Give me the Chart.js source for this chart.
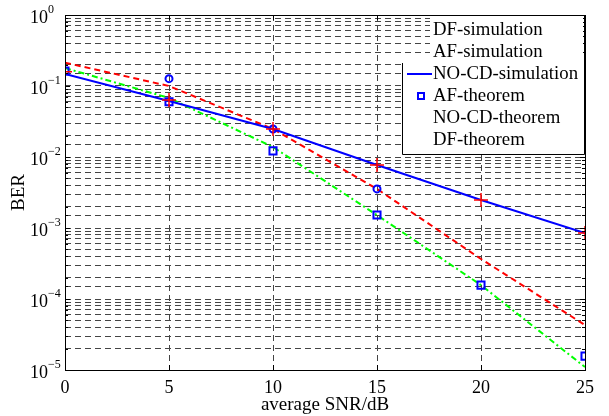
<!DOCTYPE html>
<html>
<head>
<meta charset="utf-8">
<script src="https://cdn.jsdelivr.net/npm/chart.js@4"></script>
<style>
  body { margin: 0; background: #fff; }
  canvas { display: block; }
</style>
</head>
<body>
<canvas id="berChart" width="609" height="416"></canvas>
<script>
// === Data ===
const snrDb = [0, 5, 10, 15, 20, 25];
const dfSimulation = [0.213, 0.1, 0.0248, 0.00355, 0.000366, 0.000043];
const afSimulation = [0.179, 0.0678, 0.0138, 0.00152, 0.000157, 0.000011];
const noCdSimulation = [0.148, 0.0615, 0.0248, 0.0077, 0.00248, 0.00085];
const afTheorem = [0.163, 0.06, 0.0122, 0.00152, 0.000157, 0.0000157];
const noCdTheorem = [0.159, 0.0635, 0.0248, 0.0077, 0.00248, 0.00085];
const dfTheorem = [null, 0.127, 0.0248, 0.00355, null, null];
const yTickExponents = [0, -1, -2, -3, -4, -5];
const xTitle = "average SNR/dB";
const yTitle = "BER";

const serif = "'Liberation Serif', 'Times New Roman', serif";

const toPoints = (values) => snrDb.map((x, i) => ({ x, y: values[i] }));

// Box, inward ticks and 10^n labels like the MATLAB figure
const framePlugin = {
  id: "frame",
  afterDraw(chart) {
    const { ctx, chartArea: a, scales } = chart;
    const yScale = scales.y;
    const xScale = scales.x;
    ctx.save();
    ctx.strokeStyle = "#000";
    ctx.lineWidth = 1;
    ctx.beginPath();
    yScale.ticks.forEach((t) => {
      const py = Math.round(yScale.getPixelForValue(t.value)) + 0.5;
      const major = Math.abs(Math.log10(t.value) % 1) < 1e-6;
      const len = major ? 5 : 3;
      ctx.moveTo(a.left, py);
      ctx.lineTo(a.left + len, py);
      ctx.moveTo(a.right, py);
      ctx.lineTo(a.right - len, py);
    });
    xScale.ticks.forEach((t) => {
      const px = Math.round(xScale.getPixelForValue(t.value)) + 0.5;
      ctx.moveTo(px, a.bottom);
      ctx.lineTo(px, a.bottom - 5);
      ctx.moveTo(px, a.top);
      ctx.lineTo(px, a.top + 5);
    });
    ctx.stroke();
    ctx.strokeRect(Math.round(a.left) + 0.5, Math.round(a.top) + 0.5,
      Math.round(a.right - a.left), Math.round(a.bottom - a.top));

    // y tick labels 10^n
    ctx.fillStyle = "#000";
    ctx.textBaseline = "middle";
    ctx.textAlign = "left";
    yTickExponents.forEach((e) => {
      const py = yScale.getPixelForValue(Math.pow(10, e));
      ctx.font = "18px " + serif;
      ctx.fillText("10", 30, py + 3);
      ctx.font = "12px " + serif;
      ctx.fillText(e === 0 ? "0" : "\u2212" + Math.abs(e), 48, py - 5);
    });
    ctx.restore();
  },
};

// Legend drawn like the original (partly boxed, only two samples visible)
const legendPlugin = {
  id: "matlabLegend",
  afterDraw(chart) {
    const { ctx } = chart;
    ctx.save();
    ctx.fillStyle = "#fff";
    ctx.fillRect(430, 16, 153, 48);
    ctx.fillRect(402, 63, 182, 92);
    ctx.strokeStyle = "#000";
    ctx.lineWidth = 1;
    ctx.beginPath();
    ctx.moveTo(402.5, 63);
    ctx.lineTo(402.5, 154.5);
    ctx.lineTo(584.5, 154.5);
    ctx.lineTo(584.5, 15);
    ctx.stroke();

    ctx.font = "18.8px " + serif;
    ctx.fillStyle = "#000";
    ctx.textBaseline = "middle";
    ctx.textAlign = "left";
    chart.data.datasets.forEach((ds, i) => {
      const y = 30 + i * 22;
      ctx.fillText(ds.label, 433, y);
      if (ds.legendSample === "line") {
        ctx.strokeStyle = ds.borderColor;
        ctx.lineWidth = 2;
        ctx.beginPath();
        ctx.moveTo(407, y);
        ctx.lineTo(432, y);
        ctx.stroke();
      } else if (ds.legendSample === "rect") {
        ctx.strokeStyle = ds.pointBorderColor;
        ctx.lineWidth = 2;
        ctx.strokeRect(418, y - 3, 6, 6);
      }
    });
    ctx.restore();
  },
};

const ctx = document.getElementById("berChart").getContext("2d");
new Chart(ctx, {
  type: "line",
  data: {
    datasets: [
      {
        label: "DF-simulation",
        data: toPoints(dfSimulation),
        borderColor: "#ff0000",
        borderWidth: 2,
        borderDash: [6, 4],
        pointRadius: 0,
        tension: 0,
        clip: 0,
        order: 3,
      },
      {
        label: "AF-simulation",
        data: toPoints(afSimulation),
        borderColor: "#00ff00",
        borderWidth: 2,
        borderDash: [6, 3, 2, 3],
        pointRadius: 0,
        tension: 0,
        clip: 0,
        order: 4,
      },
      {
        label: "NO-CD-simulation",
        data: toPoints(noCdSimulation),
        borderColor: "#0000ff",
        borderWidth: 2,
        pointRadius: 0,
        tension: 0,
        clip: 0,
        order: 2,
        legendSample: "line",
      },
      {
        label: "AF-theorem",
        data: toPoints(afTheorem),
        showLine: false,
        pointStyle: "rect",
        pointRadius: 5,
        pointBorderWidth: 2,
        pointBorderColor: "#0000ff",
        pointBackgroundColor: "rgba(255,255,255,0)",
        borderColor: "#0000ff",
        clip: 0,
        order: 1,
        legendSample: "rect",
      },
      {
        label: "NO-CD-theorem",
        data: toPoints(noCdTheorem),
        showLine: false,
        pointStyle: "cross",
        pointRadius: 7,
        pointBorderWidth: 1.5,
        pointBorderColor: "#ff0000",
        borderColor: "#ff0000",
        clip: 0,
        order: 0,
      },
      {
        label: "DF-theorem",
        data: toPoints(dfTheorem),
        showLine: false,
        pointStyle: "circle",
        pointRadius: 3.5,
        pointBorderWidth: 2,
        pointBorderColor: "#0000ff",
        pointBackgroundColor: "rgba(255,255,255,0)",
        borderColor: "#0000ff",
        clip: 0,
        order: 1,
      },
    ],
  },
  options: {
    responsive: false,
    animation: false,
    layout: { padding: { top: 15, right: 24, left: 0, bottom: 0 } },
    plugins: {
      legend: { display: false },
      tooltip: { enabled: false },
    },
    scales: {
      x: {
        type: "linear",
        min: 0,
        max: 25,
        ticks: {
          stepSize: 5,
          color: "#000",
          font: { family: serif, size: 18 },
          padding: 7,
          maxRotation: 0,
        },
        grid: { color: "#444", lineWidth: 1, drawTicks: false },
        border: { display: false, dash: [6, 4] },
        title: {
          display: true,
          text: xTitle,
          color: "#000",
          font: { family: serif, size: 19 },
          padding: { top: 0, bottom: 0 },
        },
        afterFit(scale) {
          scale.height = 46;
        },
      },
      y: {
        type: "logarithmic",
        min: 1e-5,
        max: 1,
        ticks: { display: false, autoSkip: false },
        grid: { color: "#444", lineWidth: 1, drawTicks: false },
        border: { display: false, dash: [6, 4] },
        title: {
          display: true,
          text: yTitle,
          color: "#000",
          font: { family: serif, size: 19 },
          padding: { top: 8, bottom: 0 },
        },
        afterFit(scale) {
          scale.width = 65;
        },
      },
    },
  },
  plugins: [framePlugin, legendPlugin],
});
</script>
</body>
</html>
